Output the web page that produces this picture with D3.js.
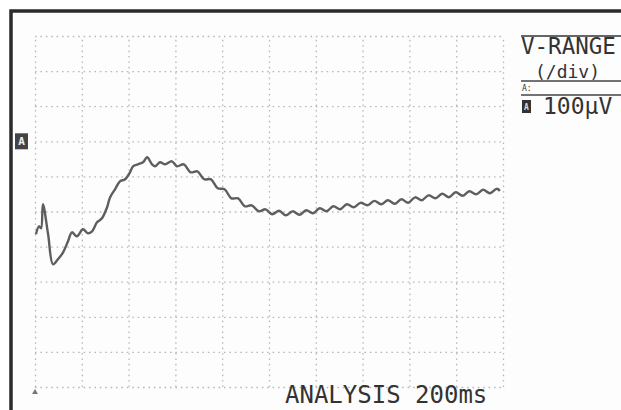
<!DOCTYPE html>
<html><head><meta charset="utf-8">
<script src="https://cdn.jsdelivr.net/npm/d3@7/dist/d3.min.js"></script>
<style>body{margin:0;background:#fff}svg{display:block}</style>
</head><body>
<svg id="c" width="621" height="410"></svg>
<script>
// time in ms (analysis window 200 ms)
const timeMs = [0.4,1.7,2.6,3.4,5.6,7.7,9.8,12.0,14.1,15.8,17.9,20.5,22.6,24.4,26.5,28.6,30.8,32.1,34.2,36.3,38.5,40.6,41.9,44.0,46.2,47.9,50.0,51.3,53.4,55.6,58.5,
60.7,63.6,66.5,69.4,72.3,75.2,78.1,81.0,83.9,86.8,89.7,92.6,95.6,98.5,101.4,104.3,107.2,110.1,113.0,115.9,118.8,121.7,124.6,127.5,130.4,133.3,136.2,139.1,142.1,145.0,
147.9,150.8,153.7,156.6,159.5,162.4,165.3,168.2,171.1,174.0,176.9,179.8,182.7,185.6,188.5,191.5,194.4,197.3,198.7];
// amplitude in µV (100 µV / div)
const amplitudeUV = [-265.0,-242.2,-247.9,-179.5,-265.0,-350.4,-336.2,-316.2,-284.9,-259.3,-270.7,-250.7,-262.1,-256.4,-230.8,-219.4,-188.0,-159.5,-136.8,-114.0,-108.3,-88.3,-71.2,-65.5,-59.8,-45.6,-65.5,-71.2,-59.8,-65.5,-57.0,
-71.2,-65.6,-88.3,-85.5,-108.2,-108.3,-133.9,-136.8,-162.4,-162.4,-185.1,-182.4,-199.4,-193.8,-207.9,-198.0,-210.8,-199.5,-209.4,-196.6,-205.1,-190.9,-199.4,-185.2,-193.7,-179.5,-188.0,-175.3,-182.3,-169.6,
-179.4,-168.1,-178.0,-165.3,-175.2,-159.6,-168.0,-153.9,-162.4,-149.6,-159.5,-145.3,-155.2,-142.5,-151.0,-138.2,-148.1,-135.4,-141.0];
const xGridTicks = [0,20,40,60,80,100,120,140,160,180,200];
const yGridTicks = [-700,-600,-500,-400,-300,-200,-100,0,100,200,300];
const headerLabel = "V-RANGE";
const divLabel = "(/div)";
const channelLabel = "A:";
const rangeValue = "100µV";
const analysisLabel = "ANALYSIS 200ms";

const svg = d3.select("#c");
const x = d3.scaleLinear().domain([0, 200]).range([35, 503]);
const y = d3.scaleLinear().domain([-700, 300]).range([387, 36]);
const mono = "'DejaVu Sans Mono', 'Liberation Mono', monospace";

// frame
svg.append("rect").attr("x", 11).attr("y", 11).attr("width", 620).attr("height", 410).attr("fill", "#fdfdfd");
svg.append("path").attr("d", "M11,412 L11,11 L623,11").attr("fill", "none")
  .attr("stroke", "#2b2b2b").attr("stroke-width", 3.5);

// grid
const gx = svg.append("g").attr("transform", "translate(0,387)")
  .call(d3.axisBottom(x).tickValues(xGridTicks).tickSize(-351).tickFormat(""));
const gy = svg.append("g").attr("transform", "translate(35,0)")
  .call(d3.axisLeft(y).tickValues(yGridTicks).tickSize(-468).tickFormat(""));
[gx, gy].forEach(g => {
  g.select(".domain").remove();
  g.selectAll(".tick line").attr("stroke", "#a8a8a8").attr("stroke-width", 1.3)
    .attr("stroke-dasharray", "1.6,3.8").attr("opacity", 0.8);
});

// waveform
const pts = timeMs.map((t, i) => ({t, v: amplitudeUV[i]}));
svg.append("path").datum(pts)
  .attr("d", d3.line().x(d => x(d.t)).y(d => y(d.v)).curve(d3.curveCatmullRom.alpha(0.5)))
  .attr("fill", "none").attr("stroke", "#5e5e5e").attr("stroke-width", 2.4)
  .attr("stroke-linejoin", "round");

// channel zero marker
const mk = svg.append("g").attr("transform", `translate(15,${y(0) - 8})`);
mk.append("rect").attr("width", 13).attr("height", 16).attr("fill", "#444");
mk.append("text").attr("x", 6.5).attr("y", 12).attr("text-anchor", "middle")
  .attr("font-family", mono).attr("font-size", 11).attr("font-weight", "bold").attr("fill", "#eee").text("A");

// trigger marker
svg.append("path").attr("d", `M${x(0) - 3},${y(-700) + 7} L${x(0)},${y(-700) + 2} L${x(0) + 3},${y(-700) + 7} Z`)
  .attr("fill", "#777");

// right header
const hx = 521;
svg.append("line").attr("x1", hx).attr("x2", 621).attr("y1", 36).attr("y2", 36).attr("stroke", "#333").attr("stroke-width", 1.5);
svg.append("text").attr("x", hx).attr("y", 54).attr("font-family", mono).attr("font-size", 22.5).attr("fill", "#333").text(headerLabel);
svg.append("text").attr("x", hx + 14).attr("y", 78).attr("font-family", mono).attr("font-size", 18).attr("fill", "#333").text(divLabel);
svg.append("line").attr("x1", hx).attr("x2", 621).attr("y1", 81).attr("y2", 81).attr("stroke", "#444").attr("stroke-width", 1.3);
svg.append("text").attr("x", hx + 1).attr("y", 91).attr("font-family", mono).attr("font-size", 8).attr("fill", "#333").text(channelLabel);
svg.append("line").attr("x1", hx).attr("x2", 621).attr("y1", 95).attr("y2", 95).attr("stroke", "#444").attr("stroke-width", 1.3);
const ic = svg.append("g").attr("transform", "translate(522,100)");
ic.append("rect").attr("width", 9).attr("height", 13).attr("fill", "#333");
ic.append("text").attr("x", 4.5).attr("y", 10).attr("text-anchor", "middle")
  .attr("font-family", mono).attr("font-size", 8).attr("font-weight", "bold").attr("fill", "#ddd").text("A");
svg.append("text").attr("x", 543).attr("y", 114).attr("font-family", mono).attr("font-size", 23).attr("fill", "#333").text(rangeValue);

// bottom label
svg.append("text").attr("x", 285).attr("y", 403).attr("font-family", mono).attr("font-size", 24).attr("fill", "#333").text(analysisLabel);
</script>
</body></html>
